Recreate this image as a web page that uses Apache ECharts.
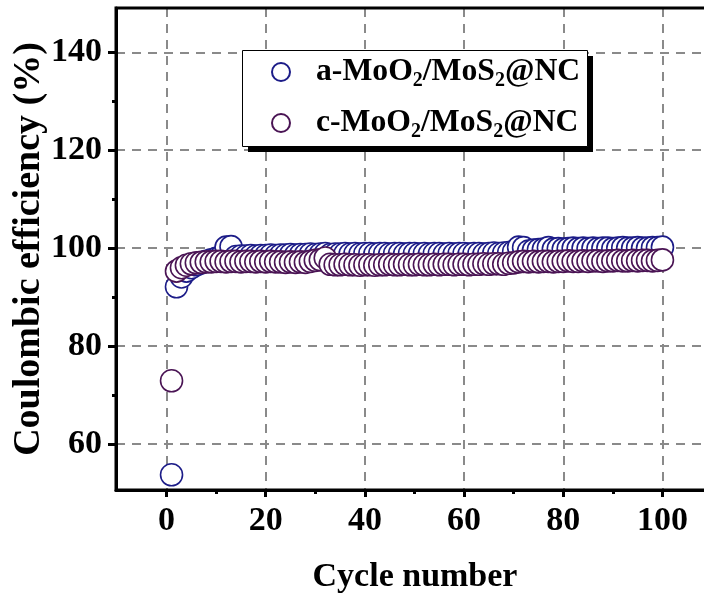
<!DOCTYPE html>
<html>
<head>
<meta charset="utf-8">
<script src="https://cdn.jsdelivr.net/npm/echarts@6/dist/echarts.min.js"></script>
<style>
  html, body { margin: 0; padding: 0; background: #fff; }
  #chart { width: 704px; height: 598px; }
</style>
</head>
<body>
<div id="chart"></div>
<script>
// Coulombic efficiency (%) per cycle for the two electrodes
const seriesNames = ['a-MoO2/MoS2@NC', 'c-MoO2/MoS2@NC'];

const effA = [
  53.7, 92.1, 94.1, 95.3, 96.0, 96.6, 97.0, 97.3, 97.6, 97.9,
  98.3, 100.2, 100.3, 98.3, 98.4, 98.4, 98.5, 98.4, 98.5, 98.5,
  98.6, 98.5, 98.6, 98.6, 98.7, 98.6, 98.7, 98.7, 98.8, 98.7,
  98.8, 98.9, 98.7, 98.8, 98.8, 98.9, 98.8, 98.9, 98.8, 98.9,
  98.9, 98.8, 98.9, 98.9, 98.8, 98.9, 98.9, 98.8, 98.9, 98.9,
  98.8, 98.9, 98.8, 98.9, 98.9, 98.8, 98.9, 98.8, 98.9, 98.9,
  98.8, 98.9, 98.9, 98.8, 98.9, 99.0, 98.9, 99.0, 99.1, 99.3,
  100.2, 100.1, 99.4, 99.6, 99.7, 99.8, 100.1, 99.8, 99.9, 99.8,
  99.9, 100.0, 99.9, 100.0, 99.9, 100.0, 99.9, 100.0, 100.0, 99.9,
  100.0, 100.1, 100.0, 100.0, 100.1, 100.0, 100.0, 100.1, 100.1, 100.2
];

const effC = [
  72.9, 95.3, 96.0, 96.5, 96.8, 97.0, 97.1, 97.2, 97.2, 97.3,
  97.3, 97.2, 97.3, 97.3, 97.2, 97.3, 97.3, 97.2, 97.3, 97.2,
  97.3, 97.2, 97.2, 97.1, 97.2, 97.1, 97.2, 97.1, 97.3, 97.5,
  97.6, 98.0, 96.7, 96.6, 96.6, 96.7, 96.6, 96.6, 96.5, 96.6,
  96.6, 96.5, 96.6, 96.6, 96.7, 96.6, 96.6, 96.7, 96.6, 96.6,
  96.7, 96.6, 96.6, 96.7, 96.6, 96.7, 96.7, 96.6, 96.7, 96.7,
  96.6, 96.7, 96.7, 96.8, 96.7, 96.8, 96.8, 96.7, 96.9, 97.0,
  97.2, 97.3, 97.2, 97.3, 97.2, 97.3, 97.3, 97.2, 97.3, 97.3,
  97.4, 97.3, 97.3, 97.4, 97.3, 97.4, 97.4, 97.3, 97.4, 97.4,
  97.5, 97.4, 97.4, 97.5, 97.4, 97.5, 97.5, 97.4, 97.5, 97.6
];

const xMajorTicks = [0, 20, 40, 60, 80, 100];
const xMinorTicks = [10, 30, 50, 70, 90];
const yMajorTicks = [60, 80, 100, 120, 140];
const yMinorTicks = [70, 90, 110, 130];

const colorA = '#1c1c88';
const colorC = '#4a1454';
const serif = '"Liberation Serif", "Times New Roman", serif';

const X_MIN = -10.2, X_MAX = 110.4;
const Y_MIN = 50.6, Y_MAX = 149.05;

function toPairs(values) {
  return values.map((v, i) => [i + 1, v]);
}

// Render "MoO2" style names with the digit 2 as a subscript
function richName(name) {
  return name.split('2').map(part => part ? '{t|' + part + '}' : '').join('{s|2}');
}

const gridLine = { show: true, lineStyle: { color: '#8a8a8a', width: 2, type: [9, 7] } };

const chart = echarts.init(document.getElementById('chart'), null, { renderer: 'canvas' });

chart.setOption({
  animation: false,
  backgroundColor: '#fff',
  grid: {
    left: 116, top: 8, right: -10, bottom: 108,
    outerBoundsMode: 'none',
    show: true, borderColor: '#000', borderWidth: 3,
    backgroundColor: 'transparent', z: 5
  },
  // framed legend box with a solid drop shadow
  graphic: [{
    type: 'rect', z: 3,
    shape: { x: 248, y: 56, width: 345, height: 96 },
    style: { fill: '#000' }
  }, {
    type: 'rect', z: 3,
    shape: { x: 242.5, y: 50.5, width: 345, height: 96 },
    style: { fill: '#fff', stroke: '#000', lineWidth: 1 }
  }],
  legend: {
    data: seriesNames,
    orient: 'vertical',
    left: 242, top: 50,
    padding: [5, 4, 7, 29],
    itemGap: 15,
    itemWidth: 60, itemHeight: 18,
    formatter: richName,
    textStyle: {
      rich: {
        t: { fontFamily: serif, fontWeight: 'bold', fontSize: 31.7, color: '#000', lineHeight: 34 },
        s: { fontFamily: serif, fontWeight: 'bold', fontSize: 20, color: '#000', lineHeight: 20,
             verticalAlign: 'top', padding: [16, 0, 0, 0] }
      }
    }
  },
  xAxis: [{
    type: 'value', min: X_MIN, max: X_MAX,
    name: 'Cycle number', nameLocation: 'middle', nameGap: 70, nameMoveOverlap: false,
    nameTextStyle: { fontFamily: serif, fontWeight: 'bold', fontSize: 34, color: '#000' },
    axisLine: { show: true, onZero: false, lineStyle: { color: '#000', width: 3 } },
    axisTick: { show: true, inside: false, length: 7, customValues: xMajorTicks,
                lineStyle: { color: '#000', width: 3 } },
    axisLabel: { customValues: xMajorTicks, margin: 14,
                 fontFamily: serif, fontWeight: 'bold', fontSize: 34, color: '#000' },
    splitLine: gridLine
  }, {
    type: 'value', min: X_MIN, max: X_MAX, position: 'bottom',
    axisLine: { show: false, onZero: false },
    axisTick: { show: true, inside: false, length: 4, customValues: xMinorTicks,
                lineStyle: { color: '#000', width: 3 } },
    axisLabel: { show: false },
    splitLine: { show: false }
  }],
  yAxis: [{
    type: 'value', min: Y_MIN, max: Y_MAX,
    name: 'Coulombic efficiency (%)', nameLocation: 'middle', nameGap: 68, nameMoveOverlap: false,
    nameTextStyle: { fontFamily: serif, fontWeight: 'bold', fontSize: 38, color: '#000' },
    axisLine: { show: true, onZero: false, lineStyle: { color: '#000', width: 3 } },
    axisTick: { show: true, inside: false, length: 8, customValues: yMajorTicks,
                lineStyle: { color: '#000', width: 3 } },
    axisLabel: { customValues: yMajorTicks, margin: 14,
                 fontFamily: serif, fontWeight: 'bold', fontSize: 34, color: '#000' },
    splitLine: gridLine
  }, {
    type: 'value', min: Y_MIN, max: Y_MAX, position: 'left',
    axisLine: { show: false, onZero: false },
    axisTick: { show: true, inside: false, length: 4, customValues: yMinorTicks,
                lineStyle: { color: '#000', width: 3 } },
    axisLabel: { show: false },
    splitLine: { show: false }
  }],
  series: [{
    name: seriesNames[0], type: 'scatter',
    xAxisIndex: 0, yAxisIndex: 0,
    symbol: 'circle', symbolSize: 22,
    itemStyle: { color: '#fff', borderColor: colorA, borderWidth: 1.6, opacity: 1 },
    data: toPairs(effA)
  }, {
    name: seriesNames[1], type: 'scatter',
    xAxisIndex: 0, yAxisIndex: 0,
    symbol: 'circle', symbolSize: 22,
    itemStyle: { color: '#fff', borderColor: colorC, borderWidth: 1.6, opacity: 1 },
    data: toPairs(effC)
  }]
});
</script>
</body>
</html>
